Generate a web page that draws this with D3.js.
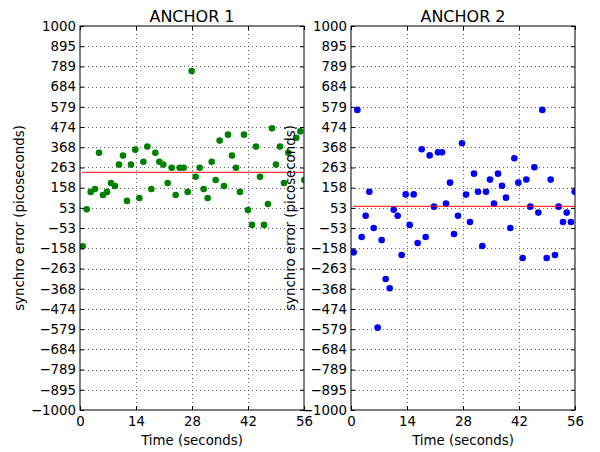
<!DOCTYPE html>
<html>
<head>
<meta charset="utf-8">
<script src="https://cdn.jsdelivr.net/npm/d3@7"></script>
<style>
  body { margin: 0; background: #fff; }
  svg { display: block; }
  text { font-family: "DejaVu Sans", sans-serif; fill: #000; }
</style>
</head>
<body>
<svg id="canvas" width="600" height="452"></svg>
<script>
(() => {
    // Chart data.
    const TIME_1 = [0.67, 1.67, 2.67, 3.75, 4.75, 5.75, 6.75, 7.75, 8.75, 9.75,
        10.75, 11.75, 12.75, 13.83, 14.83, 15.83, 16.83, 17.83, 18.83, 19.83,
        20.83, 21.92, 22.92, 23.92, 24.92, 25.92, 26.92, 27.92, 28.92, 29.92,
        30.92, 31.92, 32.92, 33.92, 34.92, 36, 37, 38, 39, 40,
        41, 42, 43, 44, 45, 46, 47, 48, 49, 50,
        51, 52.08, 54.08, 55.08, 56.08];
    const ERROR_1 = [-147, 45, 136, 151, 340, 120, 136, 182, 167, 278,
        325, 89, 278, 356, 104, 293, 372, 151, 340, 293,
        278, 182, 262, 120, 262, 262, 136, 766, 215, 262,
        151, 104, 293, 198, 403, 167, 434, 325, 262, 136,
        434, 42, -36, 372, 215, -36, 73, 467, 278, 372,
        182, 340, 418, 451, 198];
    const MEAN_1 = 238;
    const MEAN_START_1 = 0.55;

    const TIME_2 = [0.67, 1.58, 2.67, 3.67, 4.58, 5.67, 6.67, 7.67, 8.67, 9.67,
        10.67, 11.67, 12.67, 13.67, 14.67, 15.67, 16.67, 17.67, 18.67, 19.67,
        20.75, 21.75, 22.75, 23.75, 24.75, 25.75, 26.75, 27.75, 28.75, 29.75,
        30.75, 31.75, 32.83, 33.75, 34.75, 35.75, 36.75, 37.75, 38.75, 39.83,
        40.83, 41.83, 42.92, 43.83, 44.83, 45.83, 46.83, 47.83, 48.92, 49.92,
        51, 51.92, 53, 53.92, 55, 55.92];
    const ERROR_2 = [-179, 563, -99, 12, 137, -52, -571, -115, -318, -366,
        43, 12, -193, 123, -36, 123, -130, 358, -99, 326,
        59, 342, 342, 75, 184, -83, 12, 389, 122, -21,
        231, 137, -146, 137, 200, 75, 231, 168, 106, -52,
        311, 184, -208, 200, 59, 264, 28, 563, -208, 200,
        -193, 59, -21, 28, -21, 137];
    const MEAN_2 = 61;
    const MEAN_START_2 = 0.5;

    const TITLES = ["ANCHOR 1", "ANCHOR 2"];
    const X_TICKS = [0, 14, 28, 42, 56];
    const Y_TICK_LABELS = ["1000", "895", "789", "684", "579", "474", "368", "263", "158", "53",
        "\u221253", "\u2212158", "\u2212263", "\u2212368", "\u2212474", "\u2212579", "\u2212684",
        "\u2212789", "\u2212895", "\u22121000"];

    // Layout.
    const PLOT_TOP = 26;
    const PLOT_BOTTOM = 410;
    const PANEL_LEFTS = [80, 351];
    const PANEL_WIDTH = 224;
    const TICK_FONT = 13.33;
    const TICK_LEN = 4;
    const MARKER_RADIUS = 3.3;

    const canvas = d3.select("#canvas");
    const yTicks = Y_TICK_LABELS.map((d, i) => 1000 - i * 2000 / 19);

    function drawPanel(index, times, errors, mean, meanStart, color) {
        const left = PANEL_LEFTS[index];
        const x = d3.scaleLinear().domain([0, 56]).range([left, left + PANEL_WIDTH]);
        const y = d3.scaleLinear().domain([-1000, 1000]).range([PLOT_BOTTOM, PLOT_TOP]);

        const g = canvas.append("g").attr("class", "panel-" + index);

        const clipId = "clip-" + index;
        g.append("clipPath").attr("id", clipId)
            .append("rect")
            .attr("x", left).attr("y", PLOT_TOP)
            .attr("width", PANEL_WIDTH).attr("height", PLOT_BOTTOM - PLOT_TOP);

        // Dotted grid.
        const grid = g.append("g")
            .attr("stroke", "#000")
            .attr("stroke-width", 0.6)
            .attr("stroke-dasharray", "1,3");
        grid.selectAll("line.gy").data(yTicks.slice(1, -1)).join("line")
            .attr("class", "gy")
            .attr("x1", left).attr("x2", left + PANEL_WIDTH)
            .attr("y1", d => Math.round(y(d)) + 0.5).attr("y2", d => Math.round(y(d)) + 0.5);
        grid.selectAll("line.gx").data(X_TICKS.slice(1, -1)).join("line")
            .attr("class", "gx")
            .attr("y1", PLOT_TOP).attr("y2", PLOT_BOTTOM)
            .attr("x1", d => Math.round(x(d)) + 0.5).attr("x2", d => Math.round(x(d)) + 0.5);

        // Points and mean line.
        const plot = g.append("g").attr("clip-path", `url(#${clipId})`);
        plot.selectAll("circle").data(times).join("circle")
            .attr("cx", d => x(d))
            .attr("cy", (d, i) => y(errors[i]))
            .attr("r", MARKER_RADIUS)
            .attr("fill", color);
        plot.append("line")
            .attr("x1", x(meanStart)).attr("x2", x(56))
            .attr("y1", y(mean)).attr("y2", y(mean))
            .attr("stroke", "#ff0000")
            .attr("stroke-width", 1);

        // Axes, ticks pointing inwards on all four sides.
        const yLeft = d3.axisLeft(y).tickValues(yTicks)
            .tickFormat((d, i) => Y_TICK_LABELS[i])
            .tickSizeInner(-TICK_LEN).tickSizeOuter(0).tickPadding(4);
        const yRight = d3.axisRight(y).tickValues(yTicks).tickFormat("")
            .tickSizeInner(-TICK_LEN).tickSizeOuter(0);
        const xBottom = d3.axisBottom(x).tickValues(X_TICKS)
            .tickSizeInner(-TICK_LEN).tickSizeOuter(0).tickPadding(7);
        const xTop = d3.axisTop(x).tickValues(X_TICKS).tickFormat("")
            .tickSizeInner(-TICK_LEN).tickSizeOuter(0);

        const axes = [
            g.append("g").attr("transform", `translate(${left},0)`).call(yLeft),
            g.append("g").attr("transform", `translate(${left + PANEL_WIDTH},0)`).call(yRight),
            g.append("g").attr("transform", `translate(0,${PLOT_BOTTOM})`).call(xBottom),
            g.append("g").attr("transform", `translate(0,${PLOT_TOP})`).call(xTop)
        ];
        axes.forEach(a => {
            a.select(".domain").remove();
            a.selectAll("text")
                .attr("font-family", "DejaVu Sans")
                .attr("font-size", TICK_FONT)
                .attr("fill", "#000");
            a.selectAll("line").attr("stroke", "#000");
        });

        // Frame.
        g.append("rect")
            .attr("x", left).attr("y", PLOT_TOP)
            .attr("width", PANEL_WIDTH).attr("height", PLOT_BOTTOM - PLOT_TOP)
            .attr("fill", "none")
            .attr("stroke", "#000")
            .attr("stroke-width", 1);

        // Title and labels.
        g.append("text")
            .attr("x", left + PANEL_WIDTH / 2)
            .attr("y", 21.5)
            .attr("text-anchor", "middle")
            .attr("font-size", 16)
            .text(TITLES[index]);

        g.append("text")
            .attr("x", left + PANEL_WIDTH / 2)
            .attr("y", 445)
            .attr("text-anchor", "middle")
            .attr("font-size", TICK_FONT)
            .text("Time (seconds)");

        g.append("text")
            .attr("transform", `translate(${left - 56},${(PLOT_TOP + PLOT_BOTTOM) / 2}) rotate(-90)`)
            .attr("text-anchor", "middle")
            .attr("font-size", TICK_FONT)
            .text("synchro error (picoseconds)");
    }

    drawPanel(0, TIME_1, ERROR_1, MEAN_1, MEAN_START_1, "#008000");
    drawPanel(1, TIME_2, ERROR_2, MEAN_2, MEAN_START_2, "#0000ff");
})();
</script>
</body>
</html>
